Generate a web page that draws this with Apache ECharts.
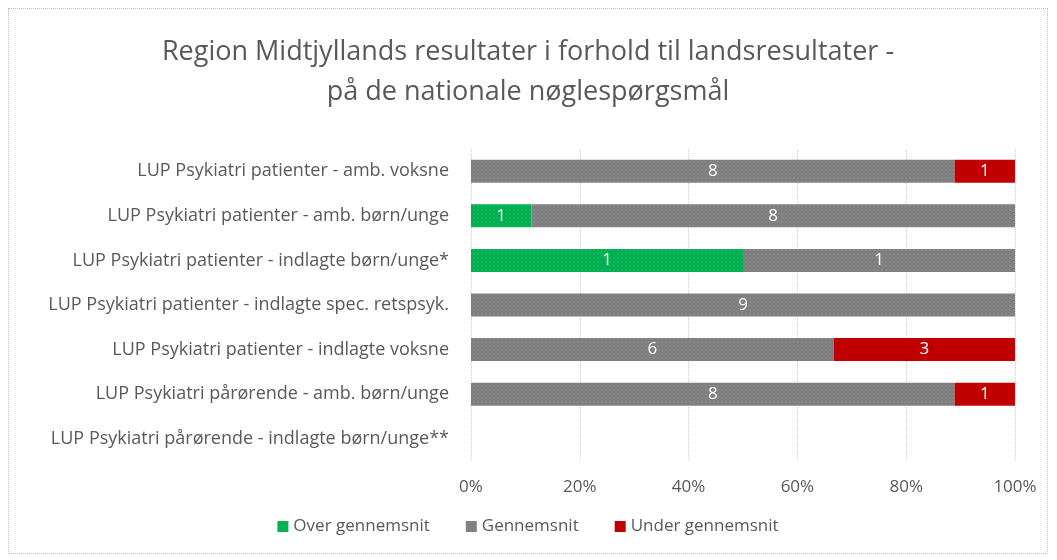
<!DOCTYPE html>
<html>
<head>
<meta charset="utf-8">
<script src="https://cdn.jsdelivr.net/npm/echarts@6/dist/echarts.min.js"></script>
<style>
html,body{margin:0;padding:0;background:#fff;}
#main{position:absolute;left:8px;top:8px;width:1040px;height:546px;border:1px dotted #bfbfbf;box-sizing:border-box;}
</style>
</head>
<body>
<div id="main"></div>
<script>
// kategorier (top til bund)
var categories = [
    'LUP Psykiatri patienter - amb. voksne',
    'LUP Psykiatri patienter - amb. børn/unge',
    'LUP Psykiatri patienter - indlagte børn/unge*',
    'LUP Psykiatri patienter - indlagte spec. retspsyk.',
    'LUP Psykiatri patienter - indlagte voksne',
    'LUP Psykiatri pårørende - amb. børn/unge',
    'LUP Psykiatri pårørende - indlagte børn/unge**'
];
var overValues = [0, 1, 1, 0, 0, 0, 0];
var avgValues = [8, 8, 1, 9, 6, 8, 0];
var underValues = [1, 0, 0, 0, 3, 1, 0];
var xTicks = ['0%', '20%', '40%', '60%', '80%', '100%'];

var totals = categories.map(function (c, i) {
    return overValues[i] + avgValues[i] + underValues[i];
});
function toPct(arr) {
    return arr.map(function (v, i) {
        return totals[i] ? { value: v / totals[i] * 100, count: v } : { value: 0, count: 0 };
    });
}

var font = 'Open Sans';
var chart = echarts.init(document.getElementById('main'));

function mkSeries(name, arr, color, decal) {
    return {
        name: name,
        type: 'bar',
        stack: 'tot',
        barWidth: 23,
        data: toPct(arr),
        itemStyle: { color: color, decal: decal },
        label: {
            show: true,
            color: '#fff',
            fontFamily: font,
            fontSize: 17,
            formatter: function (p) { return p.data.count ? p.data.count : ''; }
        }
    };
}
var dots = { symbol: 'rect', symbolSize: 0.5, dashArrayX: [2, 2], dashArrayY: [2, 2], color: 'rgba(255,255,255,0.25)' };

var option = {
    animation: false,
    title: {
        text: 'Region Midtjyllands resultater i forhold til landsresultater -\npå de nationale nøglespørgsmål',
        left: 'center',
        top: 18,
        textStyle: { fontFamily: font, fontSize: 27, fontWeight: 'normal', color: '#595959', lineHeight: 40 }
    },
    legend: {
        bottom: 13,
        left: 'center',
        icon: 'rect',
        itemWidth: 11,
        itemHeight: 11,
        itemGap: 36,
        textStyle: { fontFamily: font, fontSize: 17, color: '#595959' },
        data: ['Over gennemsnit', 'Gennemsnit', 'Under gennemsnit']
    },
    grid: { left: 462, right: 32, top: 140, bottom: 92 },
    xAxis: {
        type: 'value',
        min: 0,
        max: 100,
        interval: 20,
        axisLabel: {
            fontFamily: font, fontSize: 17, color: '#595959', margin: 18,
            formatter: function (v) { return xTicks[v / 20]; }
        },
        axisLine: { show: false },
        axisTick: { show: false },
        splitLine: { lineStyle: { color: '#d0d0d0', type: 'dotted', width: 1 } }
    },
    yAxis: {
        type: 'category',
        inverse: true,
        data: categories,
        axisLabel: { fontFamily: font, fontSize: 18, color: '#595959', margin: 22 },
        axisLine: { show: false },
        axisTick: { show: false }
    },
    series: [
        mkSeries('Over gennemsnit', overValues, '#00b050', dots),
        mkSeries('Gennemsnit', avgValues, '#7f7f7f', dots),
        mkSeries('Under gennemsnit', underValues, '#c00000', null)
    ]
};
chart.setOption(option);
</script>
</body>
</html>
